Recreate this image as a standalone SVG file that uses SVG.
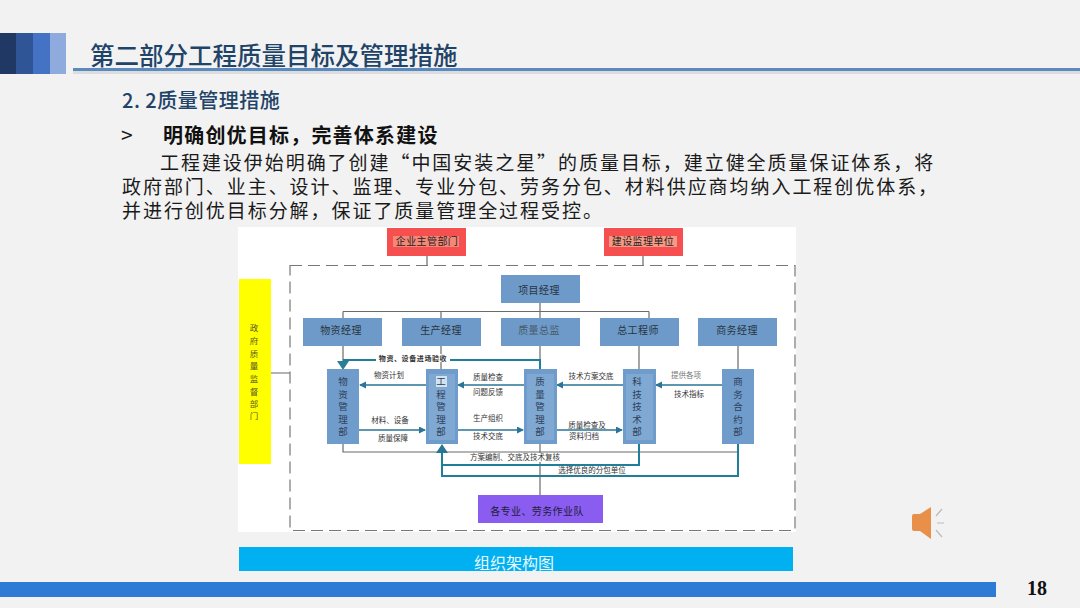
<svg xmlns="http://www.w3.org/2000/svg" width="1080" height="608" viewBox="0 0 1080 608">
<style>
text{font-family:"Noto Sans CJK SC","Noto Sans",sans-serif}
.b{fill:#6d9ac8}
.d{fill:#6f9ccb}
.hl{fill:#a8c8e6;opacity:.28}
.t{font-size:10px;letter-spacing:.4px;fill:#2a3440;text-anchor:middle}
.l{font-size:7.5px;fill:#333;text-anchor:middle}
.v{font-size:9.5px;fill:#2f4058;text-anchor:middle}
.gv{font-size:8.5px;fill:#5a5a20;text-anchor:middle}
.g{fill:none;stroke:#6b6b6b;stroke-width:1.2}
.k{fill:none;stroke:#1f7f9a;stroke-width:2}
.m{fill:none;stroke:#2a7596;stroke-width:1.6}
.body{font-size:19px;letter-spacing:1.95px;fill:#1a1a1a}
</style>
<defs>
<marker id="a" markerUnits="userSpaceOnUse" markerWidth="8" markerHeight="8" refX="6" refY="3.5" orient="auto"><path d="M0 0L7 3.5L0 7Z" fill="#2a7596"/></marker>
</defs>
<rect width="1080" height="608" fill="#f2f2f2"/>
<g id="header">
<rect x="0" y="33" width="16" height="41" fill="#1f3864"/>
<rect x="16" y="33" width="17" height="41" fill="#2f5597"/>
<rect x="33" y="33" width="17" height="41" fill="#4472c4"/>
<rect x="50" y="33" width="16" height="41" fill="#8faadc"/>
<rect x="73" y="68" width="1007" height="3" fill="#5b8ac0"/>
<rect x="73" y="71" width="1007" height="3" fill="#dcdcdc"/>
<text x="90" y="65" font-size="24.500" font-weight="500" fill="#1f4468">第二部分工程质量目标及管理措施</text>
<text x="122" y="108" font-size="20" font-weight="500" letter-spacing=".5" fill="#1f4468">2. 2质量管理措施</text>
</g>
<g id="body-text">
<text x="121" y="143" font-size="21" fill="#1a1a1a">&gt;</text>
<text x="163" y="143" font-size="20" letter-spacing="1.2" font-weight="700" fill="#111">明确创优目标，完善体系建设</text>
<text x="160" y="170" class="body">工程建设伊始明确了创建“中国安装之星”的质量目标，建立健全质量保证体系，将</text>
<text x="122" y="194" class="body">政府部门、业主、设计、监理、专业分包、劳务分包、材料供应商均纳入工程创优体系，</text>
<text x="122" y="218" class="body">并进行创优目标分解，保证了质量管理全过程受控。</text>
</g>
<rect x="238" y="227" width="558" height="305" fill="#fff"/>
<rect x="290" y="265.500" width="505" height="265" fill="none" stroke="#777" stroke-width="1.2" stroke-dasharray="12 6"/>
<g id="connectors">
<path class="g" d="M427 256V265M643 256V265M271 373H290"/>
<path class="g" d="M540 303V318M343 311.500H649M343 311.500V318M441 311.500V318M649 311.500V318"/>
<path class="g" d="M343 346V361M441 346V369M540 346V369M639 346V369M738 346V369"/>
<path class="g" d="M343 444V452H738V444M540 444V495"/>
<path class="k" d="M343 360H540V369"/>
<path class="k" d="M639 444V465H442M738 444V476H442V450"/>
<path d="M337 361L349 361L343 370Z" fill="#2a7f96"/>
<path d="M436 453L448 453L442 444Z" fill="#2a7596"/>
<path class="m" marker-end="url(#a)" d="M426 385H360"/>
<path class="m" marker-end="url(#a)" d="M525 385H458"/>
<path class="m" marker-end="url(#a)" d="M623 385H557"/>
<path class="m" marker-end="url(#a)" d="M722 385H656"/>
<path class="m" marker-end="url(#a)" d="M359 430H425"/>
<path class="m" marker-end="url(#a)" d="M458 430H523"/>
<path class="m" marker-end="url(#a)" d="M557 430H622"/>
</g>
<g id="gov"><rect x="239" y="279" width="32" height="185" fill="#ffff00"/><text class="gv"><tspan x="254" y="331">政</tspan><tspan x="254" y="344">府</tspan><tspan x="254" y="357">质</tspan><tspan x="254" y="369">量</tspan><tspan x="254" y="382">监</tspan><tspan x="254" y="395">督</tspan><tspan x="254" y="407">部</tspan><tspan x="254" y="419">门</tspan></text></g>
<g id="n1"><rect x="387" y="228" width="79" height="28" fill="#f5504f"/><rect x="393" y="236" width="66" height="11" fill="#f9c9a8" opacity=".45"/><text x="427" y="245" class="t" style="fill:#222">企业主管部门</text></g>
<g id="n2"><rect x="604" y="228" width="79" height="28" fill="#f5504f"/><rect x="609" y="236" width="68" height="11" fill="#f9c9a8" opacity=".6"/><text x="643" y="245" class="t" style="fill:#222">建设监理单位</text></g>
<g id="n3"><rect class="b" x="501" y="275" width="79" height="28"/><text x="539" y="294" class="t">项目经理</text></g>
<g id="n4"><rect class="b" x="303" y="318" width="79" height="28"/><text x="341" y="334" class="t">物资经理</text></g>
<g id="n5"><rect class="b" x="402" y="318" width="79" height="28"/><text x="441" y="334" class="t">生产经理</text></g>
<g id="n6"><rect class="b" x="501" y="318" width="79" height="28"/><text x="539" y="334" class="t" style="fill:#4a5a6a">质量总监</text></g>
<g id="n7"><rect class="b" x="600" y="318" width="79" height="28"/><text x="638" y="334" class="t">总工程师</text></g>
<g id="n8"><rect class="b" x="698" y="318" width="79" height="28"/><text x="737" y="334" class="t">商务经理</text></g>
<g id="n9"><rect class="d" x="327" y="369" width="32" height="75"/><text class="v"><tspan x="343" y="385">物</tspan><tspan x="343" y="397.500">资</tspan><tspan x="343" y="410">管</tspan><tspan x="343" y="422.500">理</tspan><tspan x="343" y="435">部</tspan></text></g>
<g id="n10"><rect class="d" x="426" y="369" width="32" height="75"/><rect class="hl" x="429" y="374" width="26" height="66"/><rect x="436" y="376" width="11" height="11" fill="#e6f0f8" opacity=".8"/><text class="v"><tspan x="441" y="385">工</tspan><tspan x="441" y="397.500">程</tspan><tspan x="441" y="410">管</tspan><tspan x="441" y="422.500">理</tspan><tspan x="441" y="435">部</tspan></text></g>
<g id="n11"><rect class="d" x="524" y="369" width="33" height="75"/><rect class="hl" x="527" y="374" width="27" height="66"/><text class="v"><tspan x="540" y="385">质</tspan><tspan x="540" y="397.500">量</tspan><tspan x="540" y="410">管</tspan><tspan x="540" y="422.500">理</tspan><tspan x="540" y="435">部</tspan></text></g>
<g id="n12"><rect class="d" x="623" y="369" width="33" height="75"/><rect class="hl" x="626" y="374" width="27" height="66"/><text class="v"><tspan x="637" y="385">科</tspan><tspan x="637" y="397.500">技</tspan><tspan x="637" y="410">技</tspan><tspan x="637" y="422.500">术</tspan><tspan x="637" y="435">部</tspan></text></g>
<g id="n13"><rect class="d" x="722" y="369" width="32" height="75"/><text class="v"><tspan x="738" y="385">商</tspan><tspan x="738" y="397.500">务</tspan><tspan x="738" y="410">合</tspan><tspan x="738" y="422.500">约</tspan><tspan x="738" y="435">部</tspan></text></g>
<g id="n14"><rect x="478" y="495" width="125" height="28" fill="#8a5cf0"/><text x="537" y="515" class="t" style="fill:#1c1c3a">各专业、劳务作业队</text></g>
<g id="labels">
<rect x="376" y="354" width="74" height="8" fill="#fff"/>
<text x="413" y="361" class="l" font-weight="700" style="letter-spacing:.6px;font-size:7px">物资、设备进场验收</text>
<text x="389" y="378" class="l">物资计划</text>
<text x="390" y="423" class="l">材料、设备</text>
<text x="393" y="441" class="l">质量保障</text>
<text x="488" y="380" class="l">质量检查</text>
<text x="488" y="395" class="l">问题反馈</text>
<text x="488" y="421" class="l">生产组织</text>
<text x="488" y="439" class="l">技术交底</text>
<text x="591" y="379" class="l">技术方案交底</text>
<text x="587" y="428" class="l">质量检查及</text>
<text x="584" y="439" class="l">资料归档</text>
<text x="686" y="378" class="l" style="fill:#777">提供各项</text>
<text x="689" y="397" class="l">技术指标</text>
<rect x="469" y="453" width="91" height="9" fill="#fff"/>
<text x="515" y="460" class="l">方案编制、交底及技术复核</text>
<text x="592" y="472.500" class="l">选择优良的分包单位</text>
</g>
<g id="footer">
<rect x="239" y="547" width="554" height="24" fill="#00b0f0"/>
<text x="514" y="569" font-size="16" fill="#e8f8ff" text-anchor="middle">组织架构图</text>
<rect x="0" y="582" width="996" height="15" fill="#2e7bd6"/>
<text x="1037" y="595" font-size="20" font-weight="700" style="font-family:'Liberation Serif',serif" fill="#111" text-anchor="middle">18</text>
<path d="M912 516Q912 514 914 514H920L931 507V539L920 531H914Q912 531 912 529Z" fill="#e8904a"/>
<path d="M936 516L942 509M937 523H944M936 530L942 537" stroke="#bbb" stroke-width="1.2" fill="none"/>
</g>
</svg>
